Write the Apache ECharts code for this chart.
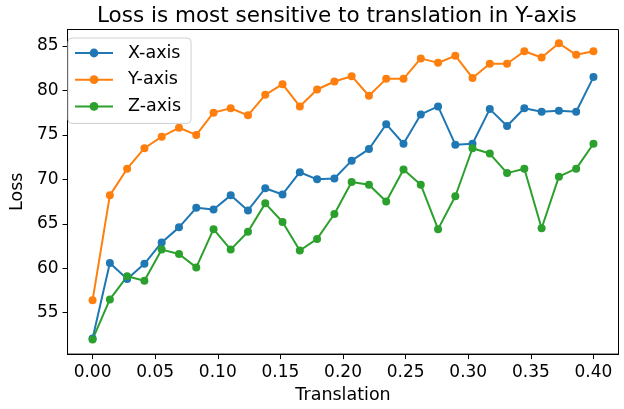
<!DOCTYPE html>
<html>
<head>
<meta charset="utf-8">
<script src="https://cdn.jsdelivr.net/npm/echarts@6/dist/echarts.min.js"></script>
<style>html,body{margin:0;padding:0;background:#fff}#c{width:624px;height:409px}</style>
</head>
<body>
<div id="c"></div>
<script>
const translation = [0.0000,0.0138,0.0276,0.0414,0.0552,0.0690,0.0828,0.0966,0.1103,0.1241,
  0.1379,0.1517,0.1655,0.1793,0.1931,0.2069,0.2207,0.2345,0.2483,0.2621,
  0.2759,0.2897,0.3034,0.3172,0.3310,0.3448,0.3586,0.3724,0.3862,0.4000];
const xAxisLoss = [52.1,60.6,58.8,60.5,62.9,64.6,66.8,66.6,68.2,66.5,
  69.0,68.3,70.8,70.0,70.1,72.1,73.4,76.2,74.0,77.3,
  78.2,73.9,74.0,77.9,76.0,78.0,77.6,77.7,77.6,81.5];
const yAxisLoss = [56.4,68.2,71.2,73.5,74.8,75.8,75.0,77.5,78.0,77.2,
  79.5,80.7,78.2,80.1,81.0,81.6,79.4,81.3,81.3,83.6,
  83.1,83.9,81.4,83.0,83.0,84.4,83.7,85.3,84.0,84.4];
const zAxisLoss = [52.0,56.5,59.1,58.6,62.1,61.6,60.1,64.4,62.1,64.1,
  67.3,65.2,62.0,63.3,66.1,69.7,69.4,67.5,71.1,69.4,
  64.4,68.1,73.5,72.9,70.7,71.2,64.5,70.3,71.2,74.0];
const xTicks = [0,0.05,0.10,0.15,0.20,0.25,0.30,0.35,0.40];
const yTicks = [55,60,65,70,75,80,85];
const seriesNames = ['X-axis','Y-axis','Z-axis'];
const colors = ['#1f77b4','#ff7f0e','#2ca02c'];

const font = 'DejaVu Sans';
const pairs = arr => arr.map((v,i)=>[translation[i], v]);
const allData = [xAxisLoss, yAxisLoss, zAxisLoss];

const chart = echarts.init(document.getElementById('c'), null, {renderer:'canvas'});
chart.setOption({
  animation:false,
  backgroundColor:'#fff',
  color: colors,
  title:{
    text:'Loss is most sensitive to translation in Y-axis',
    left:97, top:5, padding:0,
    textStyle:{fontFamily:font,fontSize:21.5,fontWeight:'normal',color:'#000'}
  },
  legend:{
    orient:'vertical', left:68, top:38,
    data: seriesNames,
    itemWidth:38, itemHeight:11, itemGap:8.7,
    padding:[6,10,8,6],
    backgroundColor:'rgba(255,255,255,0.8)',
    borderColor:'#d0d0d0', borderWidth:1, borderRadius:4,
    textStyle:{fontFamily:font,fontSize:17.5,color:'#000',lineHeight:18,padding:[0,0,0,10]}
  },
  grid:{left:60,right:5.5,top:29.5,bottom:53.3,show:true,borderColor:'#000',borderWidth:1,backgroundColor:'transparent'},
  xAxis:{
    type:'value', min:-0.02, max:0.42,
    name:'Translation', nameLocation:'middle', nameGap:27,
    nameTextStyle:{fontFamily:font,fontSize:17.5,color:'#000'},
    axisLine:{show:true,onZero:false,lineStyle:{color:'#000',width:1}},
    axisTick:{show:true,length:5,customValues:xTicks,lineStyle:{color:'#000'}},
    axisLabel:{customValues:xTicks,margin:10,fontFamily:font,fontSize:17,color:'#000',formatter:v=>v.toFixed(2)},
    splitLine:{show:false}
  },
  yAxis:{
    type:'value', min:50.35, max:86.85,
    name:'Loss', nameLocation:'middle', nameGap:35, nameRotate:90,
    nameTextStyle:{fontFamily:font,fontSize:17.5,color:'#000'},
    axisLine:{show:true,onZero:false,lineStyle:{color:'#000',width:1}},
    axisTick:{show:true,length:5,customValues:yTicks,lineStyle:{color:'#000'}},
    axisLabel:{customValues:yTicks,margin:9,fontFamily:font,fontSize:17,color:'#000'},
    splitLine:{show:false}
  },
  series: seriesNames.map((n,k)=>({
    name:n, type:'line', data:pairs(allData[k]),
    symbol:'circle', symbolSize:8, showSymbol:true,
    lineStyle:{width:2,color:colors[k]},
    itemStyle:{color:colors[k]}
  }))
});
</script>
</body>
</html>
